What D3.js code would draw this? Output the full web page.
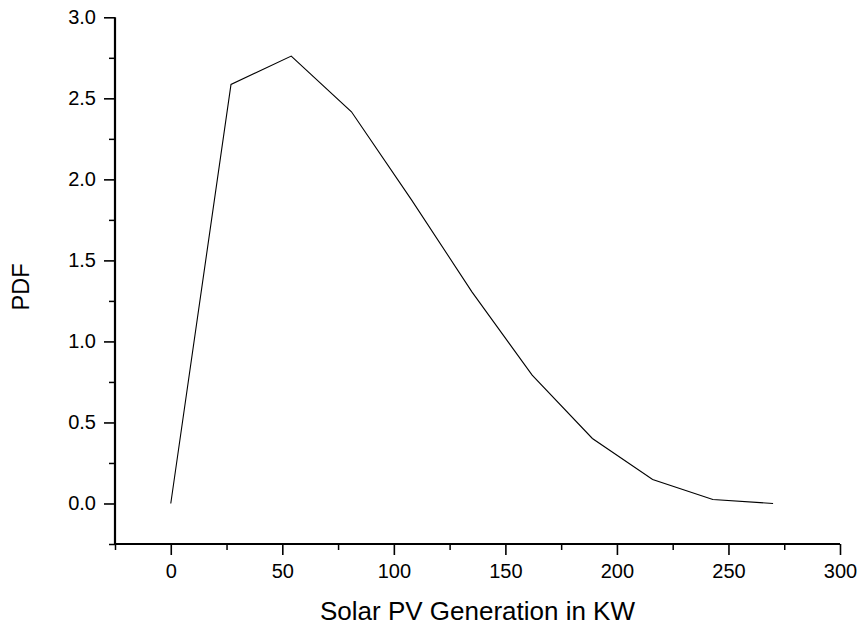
<!DOCTYPE html>
<html>
<head>
<meta charset="utf-8">
<script src="https://cdn.jsdelivr.net/npm/d3@7"></script>
<style>
  body { margin: 0; background: #fff; }
  svg { display: block; font-family: "Liberation Sans", Arial, sans-serif; }
</style>
</head>
<body>
<div id="chart"></div>
<script>
// data
const generation = [0, 27, 54, 81, 108, 135, 162, 189, 216, 243, 270];
const pdf = [0, 2.586, 2.761, 2.417, 1.872, 1.306, 0.792, 0.401, 0.148, 0.025, 0.0];
const xTicks = [0, 50, 100, 150, 200, 250, 300];
const yTicks = [0.0, 0.5, 1.0, 1.5, 2.0, 2.5, 3.0];

const width = 857;
const height = 626;

const svg = d3.select('#chart')
  .append('svg')
  .attr('width', width)
  .attr('height', height);

const x = d3.scaleLinear().domain([-25, 300]).range([115, 840]);
const y = d3.scaleLinear().domain([-0.25, 3.0]).range([544, 17.3]);

const points = generation.map((g, i) => ({ x: g, y: pdf[i] }));

// minor ticks
const xMinor = d3.range(-25, 301, 25).filter(v => !xTicks.includes(v));
const yMinor = d3.range(-0.25, 3.01, 0.25).map(v => +v.toFixed(2)).filter(v => !yTicks.includes(v));

svg.append('g')
  .attr('transform', `translate(0, ${y.range()[0]})`)
  .call(d3.axisBottom(x).tickValues(xMinor).tickSize(6).tickFormat(''))
  .call(g => g.select('.domain').remove())
  .call(g => g.selectAll('line').attr('stroke-width', 1.5));

svg.append('g')
  .attr('transform', `translate(${x.range()[0]}, 0)`)
  .call(d3.axisLeft(y).tickValues(yMinor).tickSize(6).tickFormat(''))
  .call(g => g.select('.domain').remove())
  .call(g => g.selectAll('line').attr('stroke-width', 1.5));

// major axes
const xAxis = svg.append('g')
  .attr('transform', `translate(0, ${y.range()[0]})`)
  .call(d3.axisBottom(x).tickValues(xTicks).tickSize(11).tickSizeOuter(0).tickPadding(9).tickFormat(d3.format('d')));

const yAxis = svg.append('g')
  .attr('transform', `translate(${x.range()[0]}, 0)`)
  .call(d3.axisLeft(y).tickValues(yTicks).tickSize(11).tickSizeOuter(0).tickPadding(8).tickFormat(d3.format('.1f')));

[xAxis, yAxis].forEach(a => {
  a.select('.domain').attr('stroke-width', 2.2);
  a.selectAll('.tick line').attr('stroke-width', 1.6);
  a.selectAll('text')
    .attr('fill', '#000')
    .style('font-family', '"Liberation Sans", Arial, sans-serif')
    .style('font-size', '20px');
});

// extend domain lines to full length
xAxis.select('.domain').attr('d', `M${x.range()[0] - 1},0H${x.range()[1]}`);
yAxis.select('.domain').attr('d', `M0,${y.range()[0] + 1}V${y.range()[1]}`);

// curve
const line = d3.line()
  .x(d => x(d.x))
  .y(d => y(d.y));

svg.append('path')
  .datum(points)
  .attr('fill', 'none')
  .attr('stroke', '#000')
  .attr('stroke-width', 1.1)
  .attr('d', line);

// axis titles
svg.append('text')
  .attr('x', (x.range()[0] + x.range()[1]) / 2)
  .attr('y', 620)
  .attr('text-anchor', 'middle')
  .style('font-size', '26px')
  .text('Solar PV Generation in KW');

svg.append('text')
  .attr('transform', `translate(28.5, 287) rotate(-90)`)
  .attr('text-anchor', 'middle')
  .style('font-size', '23.5px')
  .text('PDF');
</script>
</body>
</html>
